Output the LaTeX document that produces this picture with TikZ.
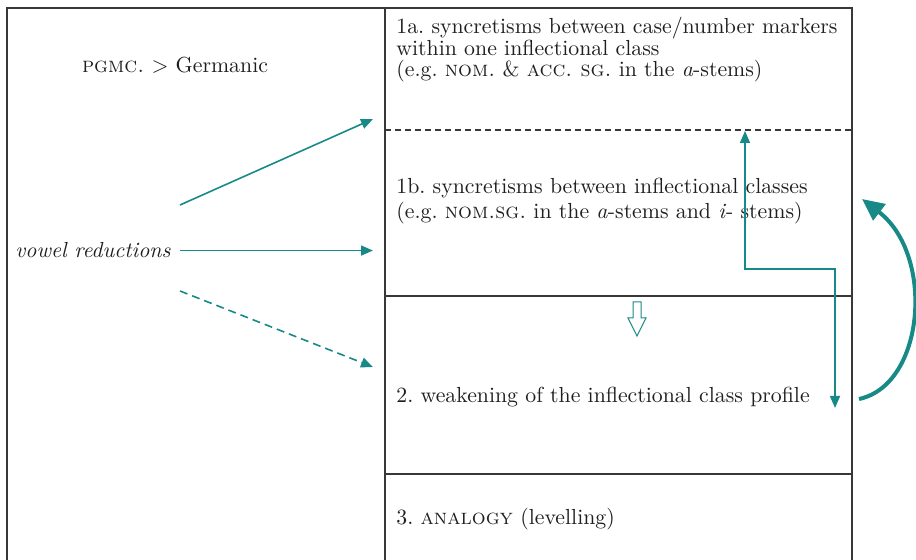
\documentclass[tikz,border=0pt]{standalone}
\usepackage{tikz}
\usetikzlibrary{arrows.meta,calc}
\definecolor{arrteal}{HTML}{178A87}
\tikzset{
  frame/.style={line width=0.55pt, color=black!78},
  lbl/.style={inner sep=0pt, text=black!88, font=\fontsize{10.9}{10.75}\selectfont},
  conn/.style={line width=0.8pt, color=arrteal, -{Triangle[length=6pt,width=5pt]}},
  bigconn/.style={line width=2pt, color=arrteal, -{Triangle[length=11pt,width=10pt]}},
}

\begin{document}
\frenchspacing
\begin{tikzpicture}[x=0.5pt,y=-0.5pt]
			%%%%% START %%%%%
			\useasboundingbox (0,0) rectangle (916,560);

			% table frame
			\draw[frame] (7,560) -- (7,8) -- (852,8) -- (852,560);
			\draw[frame] (385,8) -- (385,560);
			\draw[frame, dashed, dash pattern=on 3pt off 2pt] (385,130) -- (852,130);
			\draw[frame] (385,296) -- (852,296);
			\draw[frame] (385,474) -- (852,474);

			% left column
			\node[lbl, anchor=base] (germanic) at (175,73) {\textsc{pgmc.} > Germanic};
			\node[lbl, anchor=base west, font=\fontsize{10.9}{10.75}\selectfont\itshape] (vowel) at (15,258) {vowel reductions};

			% right column
			\node[lbl, anchor=north west, align=left] (s1a) at (396,17)
				{1a. syncretisms between case/number markers\\
				 within one inflectional class\\
				 (e.g. \textsc{nom.} \& \textsc{acc. sg.} in the \textit{a}-stems)};
			\node[lbl, anchor=north west, align=left, font=\fontsize{10.9}{12.5}\selectfont] (s1b) at (396,178)
				{1b. syncretisms between inflectional classes\\
				 (e.g. \textsc{nom.sg.} in the \textit{a}-stems and \textit{i}- stems)};
			\node[lbl, anchor=base west] (s2) at (396,403) {2. weakening of the inflectional class profile};
			\node[lbl, anchor=base west] (s3) at (396,525) {3. \textsc{analogy} (levelling)};

			% arrows from the left
			\coordinate (v1) at (180,205);
			\coordinate (v3) at (180,291);
			\coordinate (t1a) at (373,119);
			\coordinate (t1b) at (373,252);
			\coordinate (t2) at (373,367);
			\draw[conn] (v1) -- (t1a);
			\draw[conn] (vowel.east -| v1) -- (vowel.east -| t1b);
			\draw[conn, dash pattern=on 4pt off 2.5pt] (v3) -- (t2);

			% open arrow 1b > 2
			\draw[arrteal, line width=0.5pt] (633,302) -- (641,302) -- (641,318) -- (646,318)
				-- (637,336) -- (628,318) -- (633,318) -- cycle;

			% elbow connector
			\coordinate (up) at (745,131);
			\coordinate (dn) at (835,408);
			\coordinate (elbow) at (790,269);
			\draw[conn, {Triangle[length=6pt,width=5pt]}-{Triangle[length=6pt,width=5pt]}]
				(up) -- (up |- elbow) -- (elbow -| dn) -- (dn);

			% curved arrow 2 > 1b
			\coordinate (c2) at (859,399);
			\coordinate (c1b) at (862,199);
			\draw[bigconn] (c2) .. controls (925,385) and (935,255) .. (c1b);
			%%%%% END %%%%%
\end{tikzpicture}
\end{document}
